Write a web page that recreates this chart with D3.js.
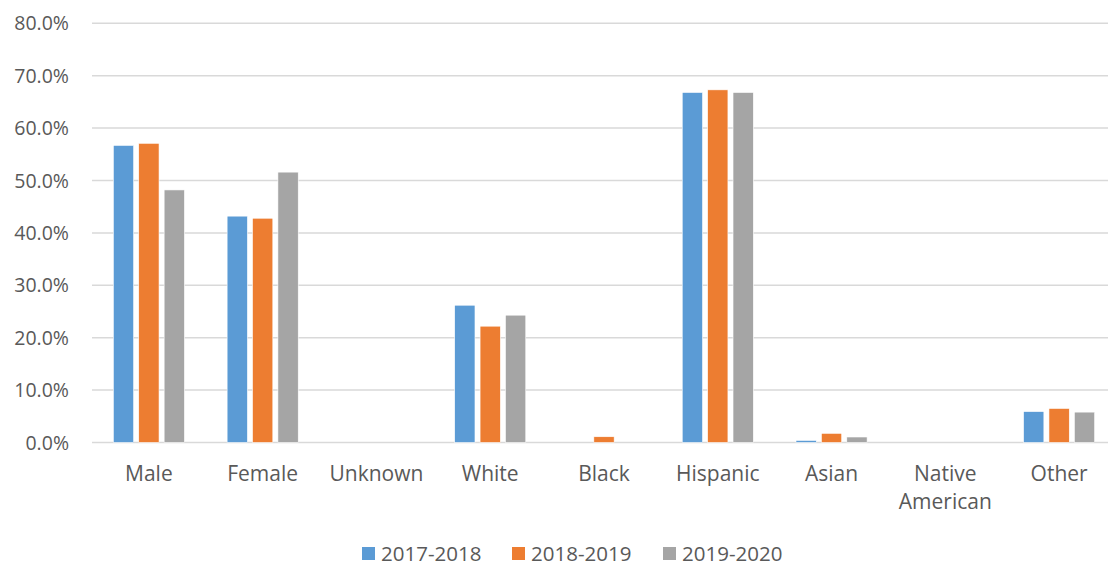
<!DOCTYPE html>
<html><head><meta charset="utf-8">
<script src="https://cdn.jsdelivr.net/npm/d3@7"></script>
<style>body{margin:0;background:#fff}svg{display:block;font-family:"Open Sans",Lato,sans-serif}</style>
</head><body><svg id="c" width="1108" height="567"></svg>
<script>
const categories = ["Male","Female","Unknown","White","Black","Hispanic","Asian","Native American","Other"];
const seriesNames = ["2017-2018","2018-2019","2019-2020"];
const s2017 = [0.567,0.432,0,0.262,0,0.668,0.004,0,0.059];
const s2018 = [0.571,0.428,0,0.222,0.011,0.673,0.0175,0,0.065];
const s2019 = [0.482,0.516,0,0.243,0,0.668,0.0105,0,0.058];
const yTicks = [0,0.1,0.2,0.3,0.4,0.5,0.6,0.7,0.8];
const colors = ["#5B9BD5","#ED7D31","#A5A5A5"];
const seriesVals = [s2017,s2018,s2019];

const svg = d3.select("#c");
const W = 1108, H = 567;
const m = {l:92,t:23.3,b:124.5};
const plotRight = 1116;
const x = d3.scaleBand().domain(categories).range([m.l, plotRight]).padding(0);
const y = d3.scaleLinear().domain([0,0.8]).range([H-m.b, m.t]);
const x1 = d3.scaleBand().domain(seriesNames).range([0,x.bandwidth()]).paddingInner(0.2).paddingOuter(0.84);

svg.append("g").selectAll("line").data(yTicks).join("line")
  .attr("x1",m.l).attr("x2",W)
  .attr("y1",d=>y(d)).attr("y2",d=>y(d))
  .attr("stroke","#D9D9D9").attr("stroke-width",1.5);

svg.append("g").selectAll("text").data(yTicks).join("text")
  .attr("x",69).attr("y",d=>y(d)).attr("dy","0.36em")
  .attr("text-anchor","end").attr("font-size",19.5).attr("fill","#595959")
  .text(d=>d3.format(".1%")(d));

const g = svg.append("g");
categories.forEach((c,i)=>{
  seriesNames.forEach((s,j)=>{
    const v = seriesVals[j][i];
    if (v<=0) return;
    g.append("rect")
      .attr("x", x(c)+x1(s)).attr("width", x1.bandwidth())
      .attr("y", y(v)).attr("height", y(0)-y(v))
      .attr("fill", colors[j]).attr("stroke","#fff").attr("stroke-width",0.6);
  });
});

const xl = svg.append("g");
categories.forEach(c=>{
  const cx = x(c)+x.bandwidth()/2;
  const t = xl.append("text").attr("x", cx).attr("y",481)
    .attr("text-anchor","middle").attr("font-size",21).attr("fill","#595959");
  const parts = c==="Native American" ? ["Native","American"] : [c];
  parts.forEach((p,k)=>t.append("tspan").attr("x", cx).attr("dy", k?28:0).text(p));
});

const legX = [362,512,663];
const lg = svg.append("g");
seriesNames.forEach((s,j)=>{
  lg.append("rect").attr("x",legX[j]).attr("y",547).attr("width",13).attr("height",13).attr("fill",colors[j]);
  lg.append("text").attr("x",legX[j]+19).attr("y",561)
    .attr("font-size",20.5).attr("fill","#595959").text(s);
});
</script></body></html>
